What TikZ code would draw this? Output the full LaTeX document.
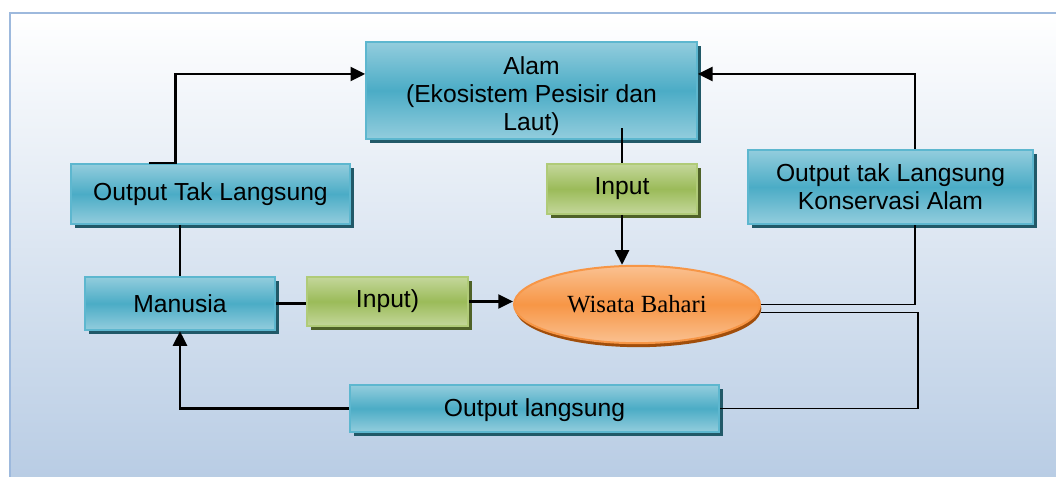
\documentclass[tikz,border=0pt]{standalone}
\usepackage{fontspec}
\setmainfont{Liberation Sans}
\newfontfamily\timesfont{Liberation Serif}
\usetikzlibrary{shapes.geometric,shadows,arrows.meta}
\definecolor{bluemid}{HTML}{4BACC6}
\definecolor{bluelight}{HTML}{93CDDD}
\definecolor{blueline}{HTML}{5DB7CF}
\definecolor{blueshadow}{HTML}{215968}
\definecolor{greenmid}{HTML}{9BBB59}
\definecolor{greenlight}{HTML}{C4D79B}
\definecolor{greenline}{HTML}{B0CB78}
\definecolor{greenshadow}{HTML}{4F6228}
\definecolor{orangemid}{HTML}{F79646}
\definecolor{orangelight}{HTML}{FAC191}
\definecolor{orangeshadow}{HTML}{A14E0B}
\definecolor{bgblue}{HTML}{B8CCE4}
\definecolor{frameblue}{HTML}{9DB9DD}
\begin{document}
\begin{tikzpicture}[x=0.75pt,y=-0.75pt]
			\tikzstyle{txt}=[font=\fontsize{18.5pt}{21pt}\selectfont,text=black,align=center,inner sep=0pt]
			\tikzstyle{bluebox}=[txt,rectangle,draw=blueline,line width=1.5pt,top color=bluelight,bottom color=bluelight,middle color=bluemid,drop shadow={shadow xshift=3pt,shadow yshift=-3pt,fill=blueshadow,opacity=1}]
			\tikzstyle{greenbox}=[txt,rectangle,draw=greenline,line width=1.5pt,top color=greenlight,bottom color=greenlight,middle color=greenmid,drop shadow={shadow xshift=3pt,shadow yshift=-3pt,fill=greenshadow,opacity=1}]
			\tikzstyle{wisata}=[txt,ellipse,draw=orangemid,line width=1.5pt,top color=orangelight,bottom color=orangelight,middle color=orangemid,font=\timesfont\fontsize{18.5pt}{21pt}\selectfont,drop shadow={shadow xshift=1pt,shadow yshift=-3pt,fill=orangeshadow,opacity=1}]
			\tikzstyle{line}=[draw=black,line width=1.7pt]
			\tikzstyle{thin}=[draw=black,line width=1.2pt]
			\tikzstyle{conn}=[line,-{Triangle[length=11pt,width=10.5pt]}]
			
			\useasboundingbox (0,0) rectangle (1056,477);
			\fill[top color=white,bottom color=bgblue] (10,13) rectangle (1062,482);
			\draw[frameblue,line width=2pt] (1062,13) -- (10,13) -- (10,482);
			
			\begin{scope}
			\node[bluebox,minimum width=248pt,minimum height=73pt] (alam) at (531.5,90.5) {\rule{0pt}{22pt}Alam\\(Ekosistem Pesisir dan\\Laut)};
			\node[bluebox,minimum width=209pt,minimum height=45pt] (otl) at (210.5,194) {Output Tak Langsung};
			\node[greenbox,minimum width=112.5pt,minimum height=37.5pt] (inp1) at (622,189) {Input};
			\node[bluebox,minimum width=214pt,minimum height=55.5pt] (otr) at (890.5,187) {Output tak Langsung\\Konservasi Alam};
			\node[bluebox,minimum width=142.5pt,minimum height=40pt] (man) at (180,303.5) {Manusia};
			\node[greenbox,minimum width=121pt,minimum height=37pt] (inp2) at (387.5,301.5) {Input)};
			\node[wisata,minimum width=184.5pt,minimum height=58pt] (wb) at (637,304.5) {Wisata Bahari};
			\node[bluebox,minimum width=277pt,minimum height=35pt] (olang) at (534.5,408.5) {\rule{0pt}{16pt}Output langsung};
			\end{scope}
			
			\draw[conn] ([xshift=-46.5pt]otl.north) -- ++(27,0) |- ([yshift=12.4pt]alam.west);
			\draw[line] (otl.south -| man.north) -- (man.north);
			\draw[line] ([yshift=9pt]alam.south -| inp1.north) -- (inp1.north);
			\draw[conn] (inp1.south) -- (inp1.south |- wb.north);
			\draw[line] (man.east) -- (man.east -| inp2.west);
			\draw[conn] (inp2.east) -- (inp2.east -| wb.west);
			\draw[thin] (wb.east) -| ([xshift=18.4pt]otr.south);
			\draw[conn] ([xshift=18.4pt]otr.north) |- ([yshift=12.4pt]alam.east);
			\draw[thin] ([yshift=-6pt]wb.east) -- ++(157,0) |- (olang.east);
			\draw[conn] (olang.west) -| (man.south);
		\end{tikzpicture}
\end{document}
